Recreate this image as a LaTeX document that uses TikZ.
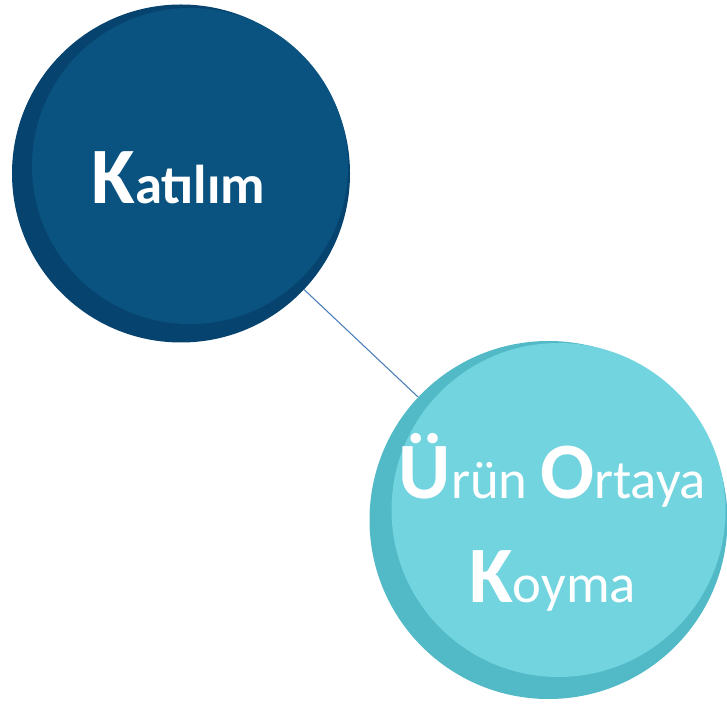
\documentclass[tikz,border=0pt]{standalone}
\usepackage{fontspec}
\setmainfont{Carlito}
\usepackage{xcolor}

\definecolor{katilimblue}{HTML}{0A5381}
\definecolor{katilimshade}{HTML}{06446F}
\definecolor{urunlight}{HTML}{72D4DF}
\definecolor{urunshade}{HTML}{52B9C6}
\definecolor{linkblue}{HTML}{4A7EBB}

\newcommand{\capfirst}[1]{{\fontsize{60}{78}\bfseries #1}}

\tikzset{
  bubble/.style={circle, inner sep=0pt},
  bubbletext/.style={text=white, align=center, font=\fontsize{41}{78}\selectfont}
}

\begin{document}
\begin{tikzpicture}[x=0.75pt,y=0.75pt]
    \useasboundingbox (0,0) rectangle (727,703);

	% shadow rims
	\node (katilim) at (181,529.5) [bubble, fill=katilimshade, minimum size=253.5pt] {};
	\node (urun) at (548.5,183) [bubble, fill=urunshade, minimum size=268.5pt] {};

	% lit faces
	\fill [katilimblue] (190,537) circle (118.5pt);
	\fill [urunlight] (558.5,193) circle (125.25pt);

	\draw [linkblue, line width=0.8pt] (katilim) -- (urun);

	\node at (katilim.center) [bubbletext, yshift=-3pt, xshift=-2pt] {\bfseries\capfirst{K}atılım};
	\node at (urun.center) [bubbletext, yshift=-2pt, xshift=3pt] {\capfirst{Ü}rün \capfirst{O}rtaya\\\capfirst{K}oyma};
\end{tikzpicture}
\end{document}
